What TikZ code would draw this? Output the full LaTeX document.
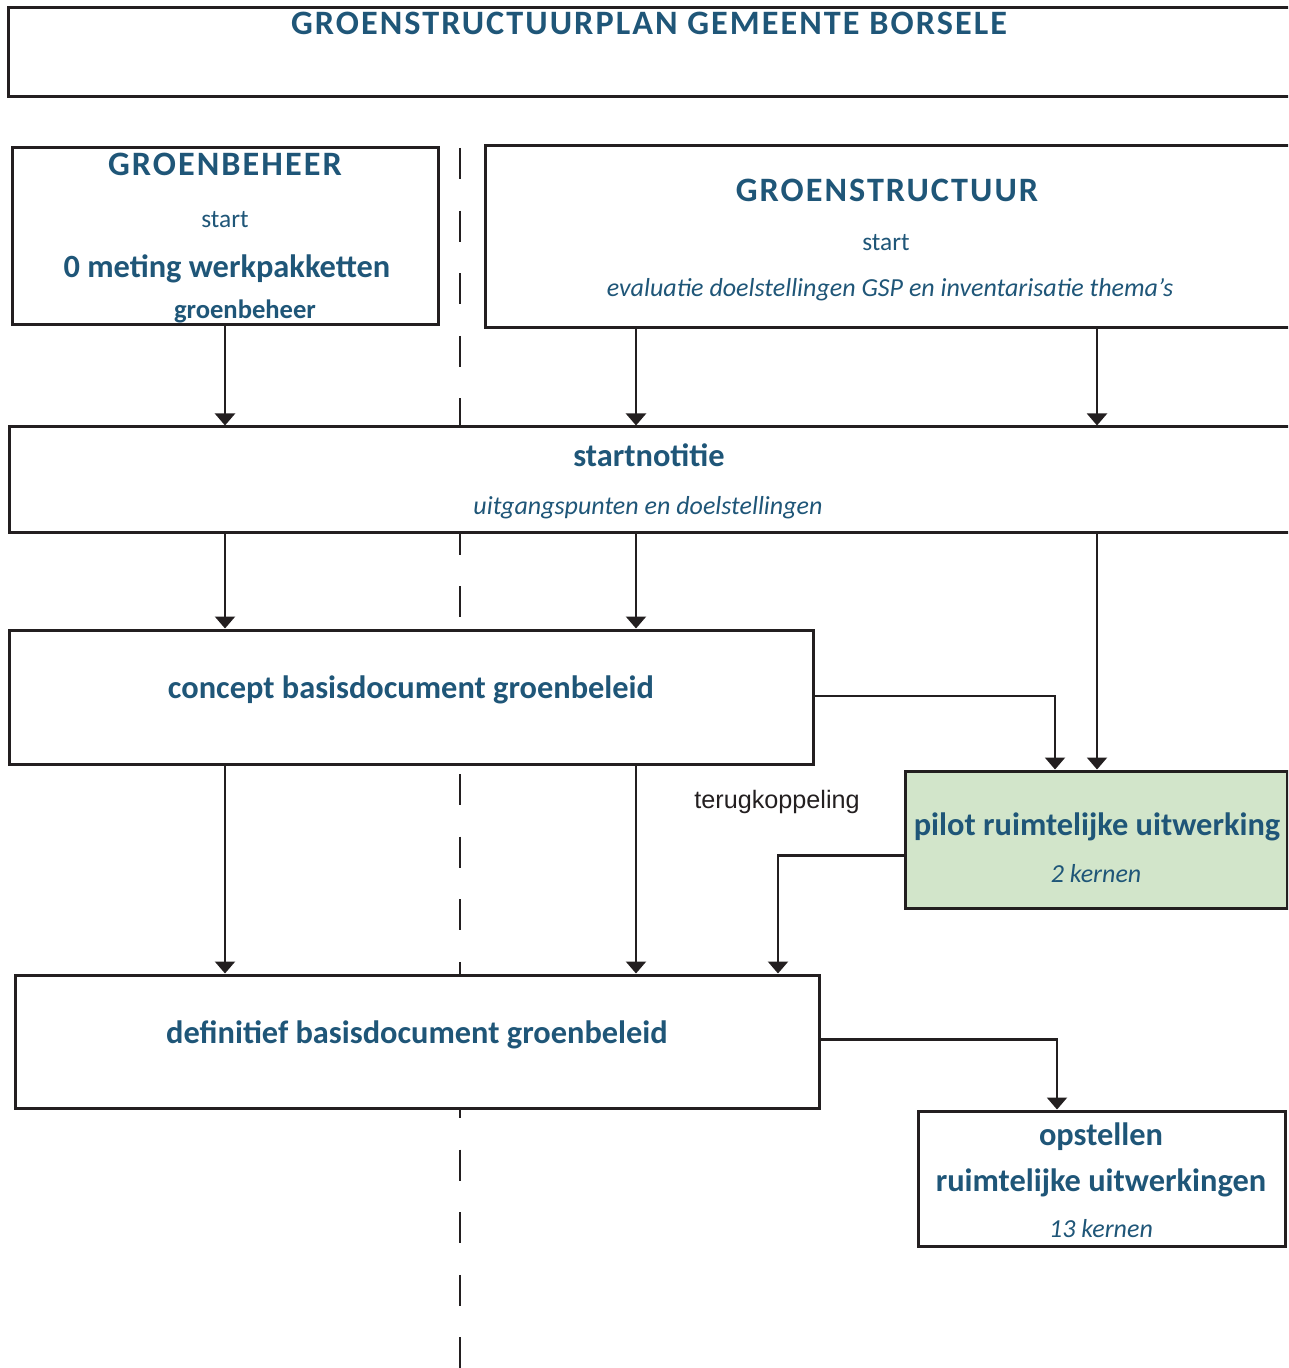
\documentclass[tikz,border=0pt]{standalone}
\usepackage{fontspec}
\setmainfont{Carlito}
\newfontfamily\helv{Liberation Sans}
\usepackage{tikz}
\usetikzlibrary{arrows.meta,fit}

\definecolor{gspblauw}{HTML}{1F5678}
\definecolor{gsplijn}{HTML}{231F20}
\definecolor{gspgroen}{HTML}{D2E5CA}

\tikzset{
  blok/.style={draw=gsplijn, line width=1.5pt, fill=white, inner sep=0pt},
  tekst/.style={anchor=base, text=gspblauw, inner sep=0pt},
  kop/.style={tekst, font=\bfseries\fontsize{17.1}{20}\selectfont\addfontfeature{LetterSpace=6}},
  groot/.style={tekst, font=\bfseries\fontsize{16.2}{20}\selectfont},
  klein/.style={tekst, font=\fontsize{12.7}{15}\selectfont},
  schuin/.style={tekst, font=\itshape\fontsize{13}{15}\selectfont},
  pijl/.style={draw=gsplijn, line width=1.1pt, -{Triangle[width=10pt,length=6pt]}},
}

\begin{document}
\begin{tikzpicture}[x=0.5pt,y=-0.5pt]
   \useasboundingbox (0,0) rectangle (1288,1368);
   \clip (0,0) rectangle (1288,1368);

   % scheiding groenbeheer / groenstructuur
   \draw[gsplijn, line width=1pt, dash pattern=on 15.5pt off 15.8pt] (460,148) -- (460,1368);

   \node[blok, fit={(8,8) (1300,97)}] (titel) {};
   \node[kop] (titeltekst) at (649,35) {GROENSTRUCTUURPLAN GEMEENTE BORSELE};

   \node[blok, fit={(12,148) (438,325)}] (beheer) {};
   \node[kop] (beheerkop) at (225,176) {GROENBEHEER};
   \node[klein] (beheerstart) at (225,228) {start};
   \node[groot] (nulmeting) at (227,278) {0 meting werkpakketten};
   \node[tekst, font=\bfseries\fontsize{13.3}{15}\selectfont] (beheersub) at (245,319) {groenbeheer};

   \node[blok, fit={(485,146) (1300,328)}] (structuur) {};
   \node[kop] (structuurkop) at (887,202) {GROENSTRUCTUUR};
   \node[klein] (structuurstart) at (886,251) {start};
   \node[schuin] (evaluatie) at (890,297) {evaluatie doelstellingen GSP en inventarisatie thema’s};

   \node[blok, fit={(9,427) (1300,532)}] (notitie) {};
   \node[groot] (notitiekop) at (649,467) {startnotitie};
   \node[schuin] (uitgangspunten) at (648,515) {uitgangspunten en doelstellingen};

   \node[blok, fit={(9,630) (813,764)}] (concept) {};
   \node[groot] (concepttekst) at (411,698) {concept basisdocument groenbeleid};

   \node[blok, fill=gspgroen, fit={(905,771) (1287,908)}] (pilot) {};
   \node[groot] (pilottekst) at (1097,835) {pilot ruimtelijke uitwerking};
   \node[schuin] (pilotkernen) at (1096,882) {2 kernen};

   \node[blok, fit={(15,975) (819,1108)}] (definitief) {};
   \node[groot] (definitieftekst) at (417,1043) {definitief basisdocument groenbeleid};

   \node[blok, fit={(918,1111) (1285,1246)}] (opstellen) {};
   \node[groot] (opstellenkop) at (1101,1145) {opstellen};
   \node[groot] (opstellenuitw) at (1101,1191) {ruimtelijke uitwerkingen};
   \node[schuin] (opstellenkernen) at (1101,1237) {13 kernen};

   \node[anchor=base, inner sep=0pt, text=gsplijn, font=\helv\fontsize{12.6}{14}\selectfont] (terug) at (777,808) {terugkoppeling};

   % kolommen van de pijlen
   \coordinate (k1) at (225,0);
   \coordinate (k2) at (636,0);
   \coordinate (k3) at (1097,0);
   \coordinate (k4) at (1055,0);
   \coordinate (k5) at (778,0);
   \coordinate (k6) at (1057,0);

   \draw[pijl] (k1 |- beheer.south) -- (k1 |- notitie.north);
   \draw[pijl] (k2 |- structuur.south) -- (k2 |- notitie.north);
   \draw[pijl] (k3 |- structuur.south) -- (k3 |- notitie.north);

   \draw[pijl] (k1 |- notitie.south) -- (k1 |- concept.north);
   \draw[pijl] (k2 |- notitie.south) -- (k2 |- concept.north);
   \draw[pijl] (k3 |- notitie.south) -- (k3 |- pilot.north);

   \draw[pijl] ([yshift=0.5pt]concept.east) -| (k4 |- pilot.north);
   \draw[pijl] ([yshift=-8pt]pilot.west) -| (k5 |- definitief.north);

   \draw[pijl] (k1 |- concept.south) -- (k1 |- definitief.north);
   \draw[pijl] (k2 |- concept.south) -- (k2 |- definitief.north);

   \draw[pijl] ([yshift=1pt]definitief.east) -| (k6 |- opstellen.north);

\end{tikzpicture}
\end{document}
